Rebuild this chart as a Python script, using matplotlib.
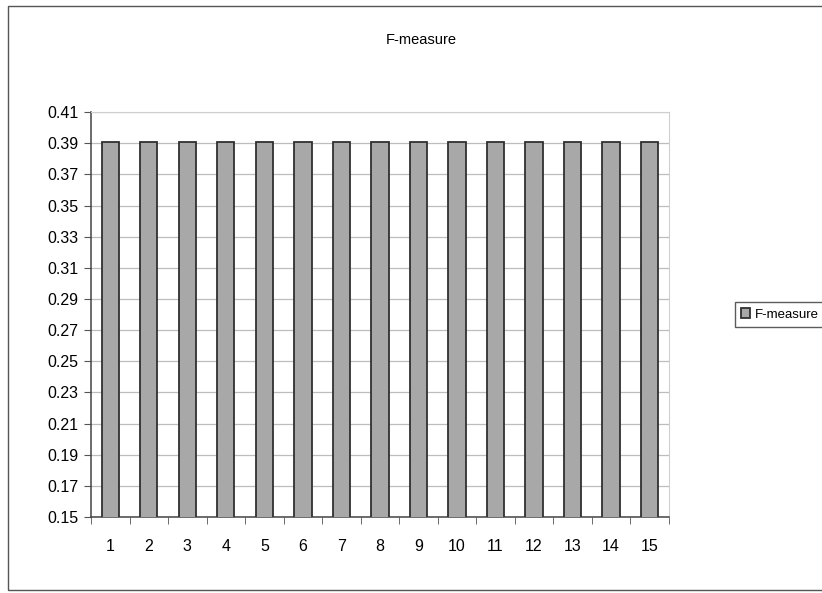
import numpy as np
import matplotlib.pyplot as plt
from matplotlib.patches import Rectangle

# Data
runs = [str(i) for i in range(1, 16)]
fmeasure = [0.391] * 15
yticks = [0.15, 0.17, 0.19, 0.21, 0.23, 0.25, 0.27, 0.29, 0.31, 0.33,
          0.35, 0.37, 0.39, 0.41]

plt.rcParams['font.family'] = ['Liberation Sans', 'DejaVu Sans']

fig = plt.figure(figsize=(8.22, 5.93), dpi=100)
ax = fig.add_axes([0.1107, 0.128, 0.703, 0.683])

x = np.arange(len(runs))
bars = ax.bar(x, fmeasure, width=0.45, bottom=0, color='#a8a8a8',
              edgecolor='#303030', linewidth=1.3, label='F-measure', zorder=3)

ax.set_xlim(-0.5, len(runs) - 0.5)
ax.set_ylim(0.15, 0.41)
ax.set_yticks(yticks)
ax.set_yticklabels([f"{v:.2f}" for v in yticks], fontsize=11.5)
ax.set_xticks(x)
ax.set_xticklabels(runs, fontsize=11.5)
ax.set_xticks(np.arange(len(runs) + 1) - 0.5, minor=True)
ax.tick_params(axis='x', which='major', length=0, pad=16)
ax.tick_params(axis='x', which='minor', length=5, direction='out', color='#555555')
ax.tick_params(axis='y', length=5, direction='out', color='#555555', pad=4)
ax.yaxis.grid(True, color='#bdbdbd', linewidth=0.9, zorder=0)

for side in ['top', 'right']:
    ax.spines[side].set_color('#cfcfcf')
for side in ['left', 'bottom']:
    ax.spines[side].set_color('#444444')
    ax.spines[side].set_linewidth(1.1)

fig.text(0.512, 0.932, 'F-measure', ha='center', va='center', fontsize=10.5)

leg = fig.legend(handles=[bars], labels=['F-measure'], loc='center left',
                 bbox_to_anchor=(0.8945, 0.4697), fontsize=9.5, frameon=True,
                 fancybox=False, edgecolor='#333333', handlelength=0.7,
                 handleheight=0.7, handletextpad=0.35, borderpad=0.45,
                 borderaxespad=0)
leg.get_frame().set_linewidth(1.0)

# outer chart border (right edge runs off the image)
fig.patches.append(Rectangle((0.0097, 0.005), 1.05, 0.985, transform=fig.transFigure,
                             fill=False, edgecolor='#555555', linewidth=1.0))

fig.savefig('out.png', dpi=100)
